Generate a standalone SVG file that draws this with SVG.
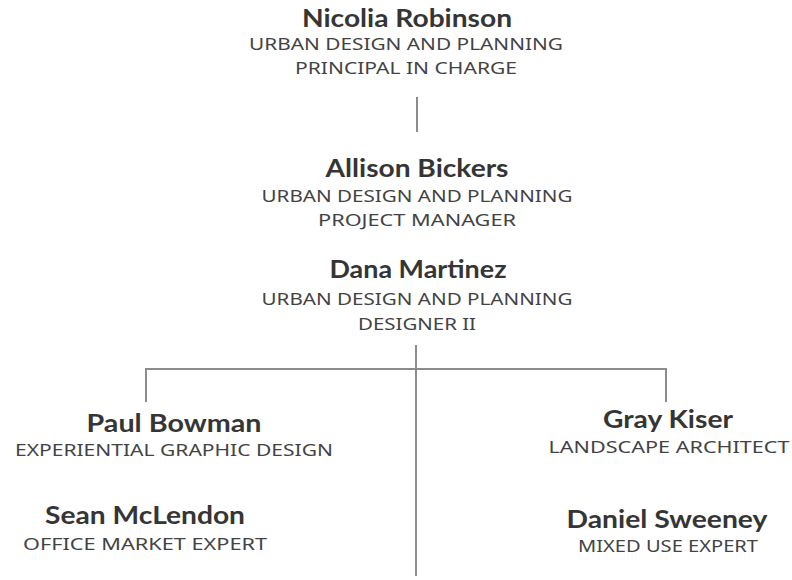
<svg xmlns="http://www.w3.org/2000/svg" width="792" height="580" viewBox="0 0 792 580">
  <style>
    .name { font-family: "Lato", "Noto Sans", "Liberation Sans", sans-serif; font-weight: 700; font-size: 25.5px; fill: #353535; text-anchor: middle; }
    .role { font-family: "Noto Sans", "Lato", "Liberation Sans", sans-serif; font-weight: 400; font-size: 16px; fill: #434343; text-anchor: middle; }
    .link { stroke: #8c8c8c; stroke-width: 2; fill: none; }
  </style>
  <rect width="792" height="580" fill="#ffffff"/>

  <g id="connectors">
    <line class="link" x1="417" y1="97" x2="417" y2="132"/>
    <line class="link" x1="416" y1="345" x2="416" y2="576"/>
    <polyline class="link" points="146,402 146,369 666,369 666,402"/>
  </g>

  <g id="nicolia-robinson">
    <text class="name" x="407" y="27" textLength="210" lengthAdjust="spacingAndGlyphs">Nicolia Robinson</text>
    <text class="role" x="406" y="50" textLength="314" lengthAdjust="spacingAndGlyphs">URBAN DESIGN AND PLANNING</text>
    <text class="role" x="406" y="74" textLength="222" lengthAdjust="spacingAndGlyphs">PRINCIPAL IN CHARGE</text>
  </g>

  <g id="allison-bickers">
    <text class="name" x="417" y="177" textLength="183" lengthAdjust="spacingAndGlyphs">Allison Bickers</text>
    <text class="role" x="417" y="202" textLength="311" lengthAdjust="spacingAndGlyphs">URBAN DESIGN AND PLANNING</text>
    <text class="role" x="417" y="226" textLength="198" lengthAdjust="spacingAndGlyphs">PROJECT MANAGER</text>
  </g>

  <g id="dana-martinez">
    <text class="name" x="418" y="278" textLength="177" lengthAdjust="spacingAndGlyphs">Dana Martinez</text>
    <text class="role" x="417" y="305" textLength="311" lengthAdjust="spacingAndGlyphs">URBAN DESIGN AND PLANNING</text>
    <text class="role" x="417" y="330" textLength="118" lengthAdjust="spacingAndGlyphs">DESIGNER II</text>
  </g>

  <g id="paul-bowman">
    <text class="name" x="174" y="432" textLength="175" lengthAdjust="spacingAndGlyphs">Paul Bowman</text>
    <text class="role" x="174" y="456" textLength="318" lengthAdjust="spacingAndGlyphs">EXPERIENTIAL GRAPHIC DESIGN</text>
  </g>

  <g id="sean-mclendon">
    <text class="name" x="145" y="524" textLength="200" lengthAdjust="spacingAndGlyphs">Sean McLendon</text>
    <text class="role" x="145" y="550" textLength="244" lengthAdjust="spacingAndGlyphs">OFFICE MARKET EXPERT</text>
  </g>

  <g id="gray-kiser">
    <text class="name" x="668" y="428" textLength="130" lengthAdjust="spacingAndGlyphs">Gray Kiser</text>
    <text class="role" x="669" y="453" textLength="241" lengthAdjust="spacingAndGlyphs">LANDSCAPE ARCHITECT</text>
  </g>

  <g id="daniel-sweeney">
    <text class="name" x="667" y="528" textLength="201" lengthAdjust="spacingAndGlyphs">Daniel Sweeney</text>
    <text class="role" x="668" y="552" textLength="180" lengthAdjust="spacingAndGlyphs">MIXED USE EXPERT</text>
  </g>
</svg>
